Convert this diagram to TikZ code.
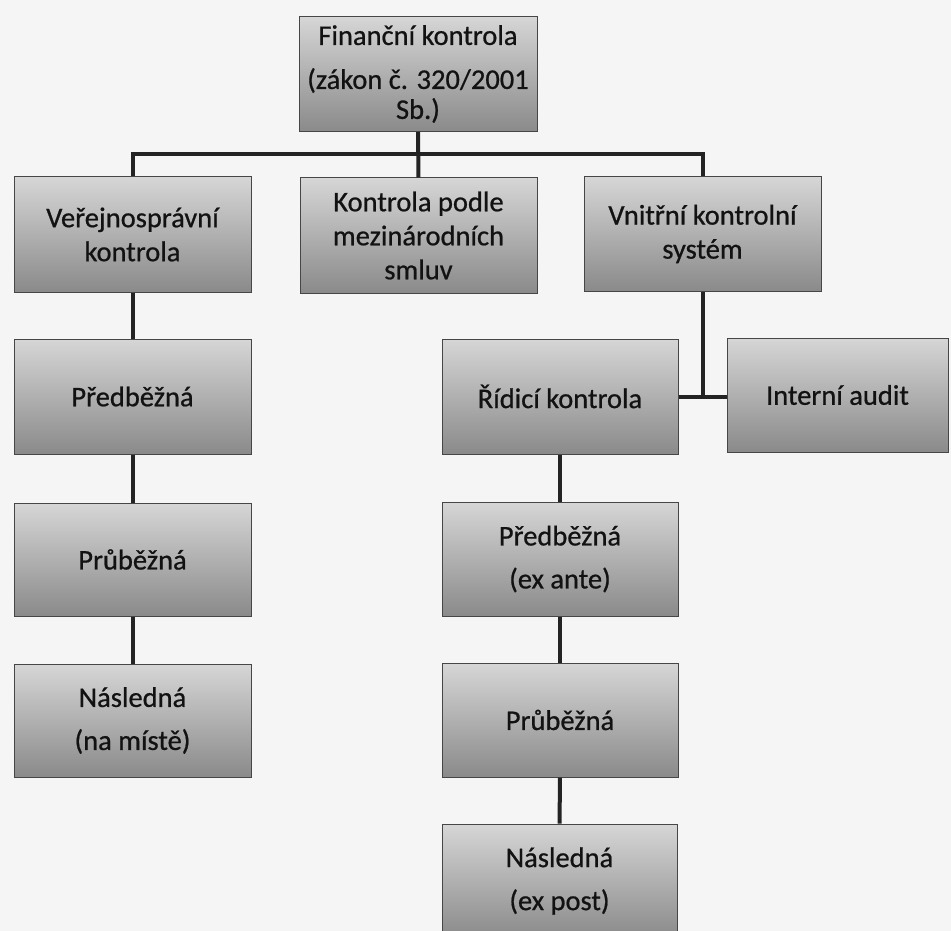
\documentclass[tikz,border=0pt]{standalone}
\usepackage{fontspec}
\setmainfont{Carlito}[UprightFeatures={FakeBold=0.7}]
\definecolor{paper}{RGB}{245,245,245}
\definecolor{boxedge}{RGB}{70,70,70}
\definecolor{boxtop}{RGB}{214,214,214}
\definecolor{boxmid}{RGB}{180,180,180}
\definecolor{boxbottom}{RGB}{138,138,138}
\definecolor{ink}{RGB}{18,18,18}
\definecolor{linkink}{RGB}{35,35,35}
\begin{document}
\begin{tikzpicture}[x=1pt,y=-1pt,
  box/.style={draw=boxedge, line width=1pt,
    top color=boxtop, middle color=boxmid, bottom color=boxbottom,
    minimum width=237pt, minimum height=114pt, inner sep=0pt,
    align=center, text=ink,
    font=\fontsize{28.5pt}{34pt}\selectfont},
  loose/.style={font=\fontsize{28.5pt}{43pt}\selectfont},
  link/.style={draw=linkink, line width=4pt}]
  % page
  \fill[paper] (0,0) rectangle (951,931);
  \useasboundingbox (0,0) rectangle (951,931);

  % top level
  \node[box, minimum width=238pt, minimum height=115pt] (fin) at (418,74)
    {Finanční kontrola\\[10pt](zákon č. 320/2001\\[-4pt]Sb.)};

  % second level
  \node[box, minimum height=115pt] (ver) at (132.5,234.5) {Veřejnosprávní\\kontrola};
  \node[box, minimum height=115pt] (mez) at (418.5,235.5) {Kontrola podle\\mezinárodních\\smluv};
  \node[box] (vni) at (702.5,234) {Vnitřní kontrolní\\systém};

  % public administration branch
  \node[box, minimum height=115pt] (pre) at (132.5,396.5) {Předběžná};
  \node[box, minimum height=113pt] (pru) at (132.5,559.5) {Průběžná};
  \node[box, loose, minimum height=113pt] (nas) at (132.5,720.5) {Následná\\(na místě)};

  % internal control branch
  \node[box, minimum width=236pt, minimum height=115pt] (rid) at (560,396.5) {Řídicí kontrola};
  \node[box, minimum width=221pt] (int) at (837.5,395) {Interní audit};
  \node[box, loose, minimum width=236pt] (preb) at (560,559) {Předběžná\\(ex ante)};
  \node[box, minimum width=236pt] (prub) at (560,720) {Průběžná};
  \node[box, loose, minimum width=235pt] (nasb) at (559.5,881) {Následná\\(ex post)};

  % connectors
  \coordinate (bus) at (0,154);
  \draw[link] (fin.south) -- (mez.north);
  \draw[link] (ver.north) -- (ver.north |- bus) -| (vni.north);
  \draw[link] (vni.south) -- (vni.south |- rid.east);
  \draw[link] (rid.east) -- (rid.east -| int.west);
  \draw[link] (ver) -- (pre);
  \draw[link] (pre) -- (pru);
  \draw[link] (pru) -- (nas);
  \draw[link] (rid) -- (preb);
  \draw[link] (preb) -- (prub);
  \draw[link] (prub) -- (nasb);
\end{tikzpicture}
\end{document}
